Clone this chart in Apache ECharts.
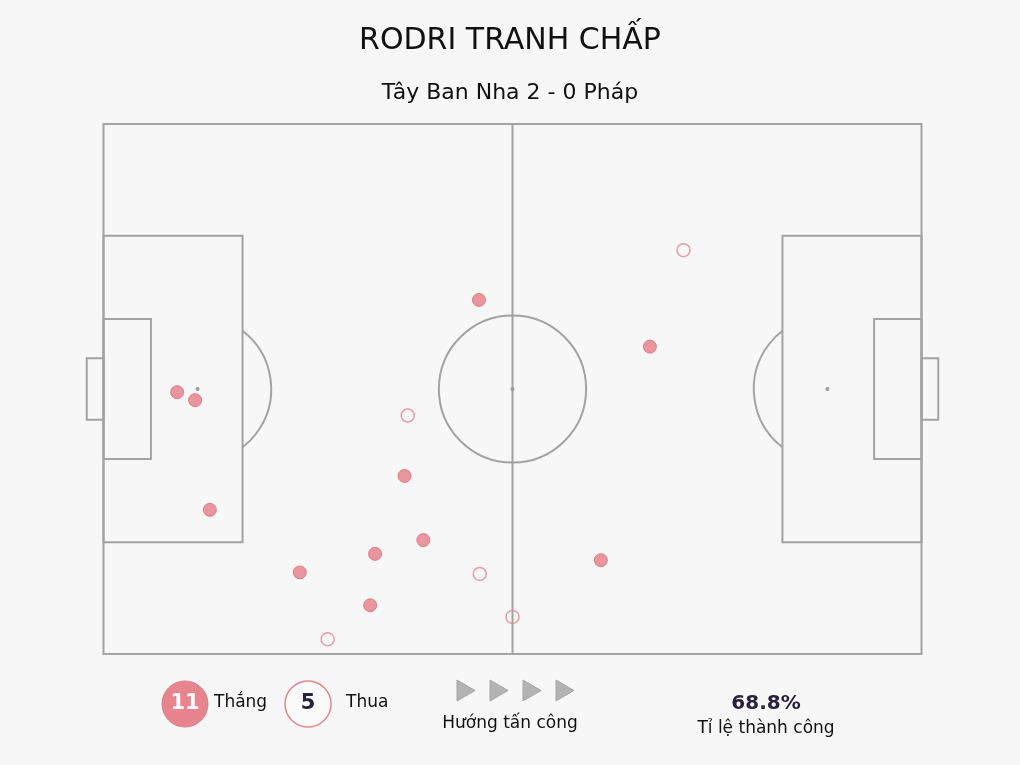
<!DOCTYPE html>
<html>
<head>
<meta charset="utf-8">
<script src="https://cdn.jsdelivr.net/npm/echarts@6/dist/echarts.min.js"></script>
<style>
html,body{margin:0;padding:0;background:#f7f7f7;}
#c{width:1020px;height:765px;}
</style>
</head>
<body>
<div id="c"></div>
<script>
// Data (Opta-style pitch coordinates: x 0-100 attacking to the right, y 0-100 from top)
const wonX = [9.0, 11.2, 13.0, 45.9, 36.8, 39.1, 33.2, 24.0, 32.6, 66.8, 60.8];
const wonY = [50.6, 52.1, 72.8, 33.2, 66.4, 78.5, 81.1, 84.6, 90.8, 42.0, 82.3];
const lostX = [70.9, 37.2, 46.0, 50.0, 27.4];
const lostY = [23.8, 55.0, 84.9, 93.0, 97.2];

const titleText = 'RODRI TRANH CHẤP';
const subtitleText = 'Tây Ban Nha 2 - 0 Pháp';
const wonLabel = 'Thắng';
const lostLabel = 'Thua';
const directionLabel = 'Hướng tấn công';
const rateLabel = 'Tỉ lệ thành công';

// Pitch geometry (data units)
const boxDepth = 17, boxTop = 21.1, boxBottom = 78.9;
const sixDepth = 5.8, sixTop = 36.8, sixBottom = 63.2;
const goalDepth = 2.05, goalTop = 44.2, goalBottom = 55.8;
const spotX = 11.5, circleR = 9.0;

const wonData = wonX.map((x, i) => [x, wonY[i]]);
const lostData = lostX.map((x, i) => [x, lostY[i]]);
const rate = (wonData.length / (wonData.length + lostData.length) * 100).toFixed(1) + '%';

const lineColor = '#a3a3a3';
const FONT = '"DejaVu Sans", sans-serif';

function pitchRender(params, api) {
  const st = { stroke: lineColor, lineWidth: 2, fill: null };
  const rect = (x0, y0, x1, y1) => {
    const a = api.coord([x0, y0]), b = api.coord([x1, y1]);
    return { type: 'rect', shape: { x: Math.min(a[0], b[0]), y: Math.min(a[1], b[1]), width: Math.abs(b[0] - a[0]), height: Math.abs(b[1] - a[1]) }, style: st };
  };
  const line = (x0, y0, x1, y1) => {
    const a = api.coord([x0, y0]), b = api.coord([x1, y1]);
    return { type: 'line', shape: { x1: a[0], y1: a[1], x2: b[0], y2: b[1] }, style: st };
  };
  const dot = (x, y) => {
    const p = api.coord([x, y]);
    return { type: 'circle', shape: { cx: p[0], cy: p[1], r: 2 }, style: { fill: '#999' } };
  };
  const r = api.size([circleR, 0])[0];
  const c = api.coord([50, 50]);
  const lSpot = api.coord([spotX, 50]);
  const rSpot = api.coord([100 - spotX, 50]);
  const dx = api.size([boxDepth - spotX, 0])[0];
  const ang = Math.acos(Math.min(1, dx / r));
  const children = [
    rect(0, 0, 100, 100),
    line(50, 0, 50, 100),
    rect(0, boxTop, boxDepth, boxBottom),
    rect(100 - boxDepth, boxTop, 100, boxBottom),
    rect(0, sixTop, sixDepth, sixBottom),
    rect(100 - sixDepth, sixTop, 100, sixBottom),
    rect(-goalDepth, goalTop, 0, goalBottom),
    rect(100, goalTop, 100 + goalDepth, goalBottom),
    { type: 'circle', shape: { cx: c[0], cy: c[1], r: r }, style: st },
    { type: 'arc', shape: { cx: lSpot[0], cy: lSpot[1], r: r, startAngle: -ang, endAngle: ang, clockwise: true }, style: st },
    { type: 'arc', shape: { cx: rSpot[0], cy: rSpot[1], r: r, startAngle: Math.PI - ang, endAngle: Math.PI + ang, clockwise: true }, style: st },
    dot(50, 50), dot(spotX, 50), dot(100 - spotX, 50)
  ];
  return { type: 'group', children: children };
}

const chart = echarts.init(document.getElementById('c'), null, { renderer: 'canvas' });

const arrowXs = [466, 499, 532, 565];
const arrows = arrowXs.map(x => ({
  type: 'polygon',
  shape: { points: [[x - 9, 680], [x + 9, 690.5], [x - 9, 701]] },
  style: { fill: '#b3b3b3', stroke: '#a6a6a6', lineWidth: 1 }
}));

chart.setOption({
  backgroundColor: '#f7f7f7',
  animation: false,
  title: [
    { text: titleText, left: 'center', top: 21, textStyle: { fontFamily: FONT, fontSize: 30, fontWeight: 'normal', color: '#111' } },
    { text: subtitleText, left: 'center', top: 77, textStyle: { fontFamily: FONT, fontSize: 22, fontWeight: 'normal', color: '#111' } }
  ],
  grid: { left: 103.5, right: 98.5, top: 124, bottom: 111 },
  xAxis: { type: 'value', min: 0, max: 100, show: false },
  yAxis: { type: 'value', min: 0, max: 100, inverse: true, show: false },
  series: [
    { type: 'custom', renderItem: pitchRender, data: [[0, 0]], clip: false, silent: true, z: 1 },
    { type: 'scatter', name: wonLabel, data: wonData, symbolSize: 13, z: 3,
      itemStyle: { color: 'rgba(230,120,131,0.95)', borderColor: '#de6a78', borderWidth: 1 } },
    { type: 'scatter', name: lostLabel, data: lostData, symbolSize: 13, z: 3,
      itemStyle: { color: 'rgba(0,0,0,0)', borderColor: '#e8858f', borderWidth: 1.5 } }
  ],
  graphic: [
    { type: 'circle', shape: { cx: 185, cy: 704, r: 23 }, style: { fill: '#e8848d', stroke: '#e07985', lineWidth: 1 } },
    { type: 'text', x: 185, y: 704, style: { text: String(wonData.length), fill: '#fff', font: 'bold 21px ' + FONT, textAlign: 'center', textVerticalAlign: 'middle' } },
    { type: 'text', x: 214, y: 703, style: { text: wonLabel, fill: '#111', font: '17px ' + FONT, textAlign: 'left', textVerticalAlign: 'middle' } },
    { type: 'circle', shape: { cx: 308, cy: 704, r: 23 }, style: { fill: '#fafafa', stroke: '#e8858f', lineWidth: 1.5 } },
    { type: 'text', x: 308, y: 704, style: { text: String(lostData.length), fill: '#2a2140', font: 'bold 21px ' + FONT, textAlign: 'center', textVerticalAlign: 'middle' } },
    { type: 'text', x: 346, y: 703, style: { text: lostLabel, fill: '#111', font: '17px ' + FONT, textAlign: 'left', textVerticalAlign: 'middle' } },
    ...arrows,
    { type: 'text', x: 510, y: 724, style: { text: directionLabel, fill: '#111', font: '17px ' + FONT, textAlign: 'center', textVerticalAlign: 'middle' } },
    { type: 'text', x: 766, y: 704, style: { text: rate, fill: '#2a2140', font: 'bold 20px ' + FONT, textAlign: 'center', textVerticalAlign: 'middle' } },
    { type: 'text', x: 766, y: 729, style: { text: rateLabel, fill: '#111', font: '17px ' + FONT, textAlign: 'center', textVerticalAlign: 'middle' } }
  ]
});
</script>
</body>
</html>
